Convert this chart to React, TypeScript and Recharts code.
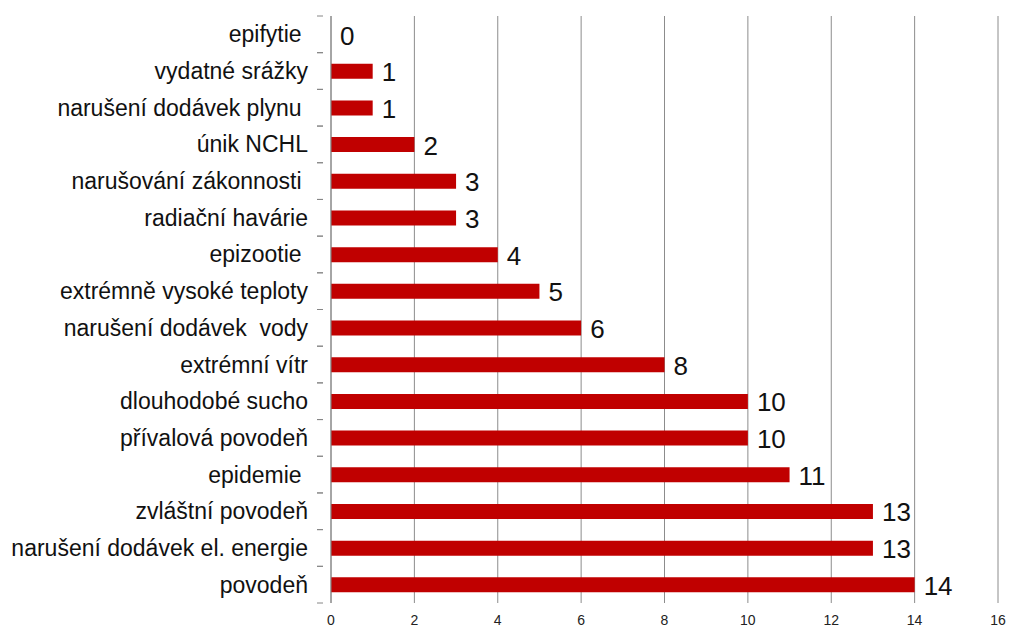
import { BarChart, Bar, XAxis, YAxis, CartesianGrid, LabelList } from 'recharts'

const categories = [
  'epifytie ',
  'vydatné srážky',
  'narušení dodávek plynu ',
  'únik NCHL',
  'narušování zákonnosti ',
  'radiační havárie',
  'epizootie ',
  'extrémně vysoké teploty',
  'narušení dodávek  vody',
  'extrémní vítr',
  'dlouhodobé sucho',
  'přívalová povodeň',
  'epidemie ',
  'zvláštní povodeň',
  'narušení dodávek el. energie',
  'povodeň',
]

const counts = [0, 1, 1, 2, 3, 3, 4, 5, 6, 8, 10, 10, 11, 13, 13, 14]

const xTicks = [0, 2, 4, 6, 8, 10, 12, 14, 16]

const data = categories.map((name, i) => ({ name, value: counts[i] }))

const W = 1024
const H = 639
const TOP = 16
const BOTTOM = 36
const BAND = (H - TOP - BOTTOM) / categories.length

interface TickProps {
  x?: number
  y?: number
  payload?: { value: string | number }
}

function CategoryTick({ x = 0, y = 0, payload }: TickProps) {
  return (
    <g>
      <line x1={x - 6} x2={x} y1={y - BAND / 2} y2={y - BAND / 2} stroke="#868686" />
      <line x1={x - 6} x2={x} y1={y + BAND / 2} y2={y + BAND / 2} stroke="#868686" />
      <text
        x={x - 15}
        y={y}
        dy={8}
        textAnchor="end"
        fill="#111"
        fontSize={23}
        style={{ whiteSpace: 'pre' }}
      >
        {payload?.value}
      </text>
    </g>
  )
}

function NumberTick({ x = 0, y = 0, payload }: TickProps) {
  return (
    <text x={x} y={y} dy={14} textAnchor="middle" fill="#222" fontSize={14}>
      {payload?.value}
    </text>
  )
}

interface LabelProps {
  x?: number | string
  y?: number | string
  width?: number | string
  height?: number | string
  value?: number | string
}

function ValueLabel({ x = 0, y = 0, width = 0, height = 0, value }: LabelProps) {
  return (
    <text
      x={Number(x) + Number(width) + 9}
      y={Number(y) + Number(height) / 2}
      dy={10}
      fill="#111"
      fontSize={26}
    >
      {value}
    </text>
  )
}

export default function App() {
  return (
    <div style={{ position: 'absolute', left: 0, top: 0, width: W, height: H, background: '#fff' }}>
      <BarChart
        width={W}
        height={H}
        data={data}
        layout="vertical"
        margin={{ top: TOP, right: 26, left: 0, bottom: 6 }}
        style={{ fontFamily: 'Liberation Sans, Arial, sans-serif' }}
      >
        <CartesianGrid horizontal={false} stroke="#8c8c8c" />
        <XAxis
          type="number"
          domain={[0, 16]}
          ticks={xTicks}
          axisLine={false}
          tickLine={false}
          height={30}
          tick={<NumberTick />}
        />
        <YAxis
          type="category"
          dataKey="name"
          width={331}
          axisLine={{ stroke: '#868686' }}
          tickLine={false}
          interval={0}
          tick={<CategoryTick />}
        />
        <Bar
          dataKey="value"
          fill="#c00000"
          barSize={15}
          minPointSize={(v: number) => (v === 0 ? 0.001 : 0)}
          isAnimationActive={false}
        >
          <LabelList dataKey="value" content={<ValueLabel />} />
        </Bar>
      </BarChart>
    </div>
  )
}
